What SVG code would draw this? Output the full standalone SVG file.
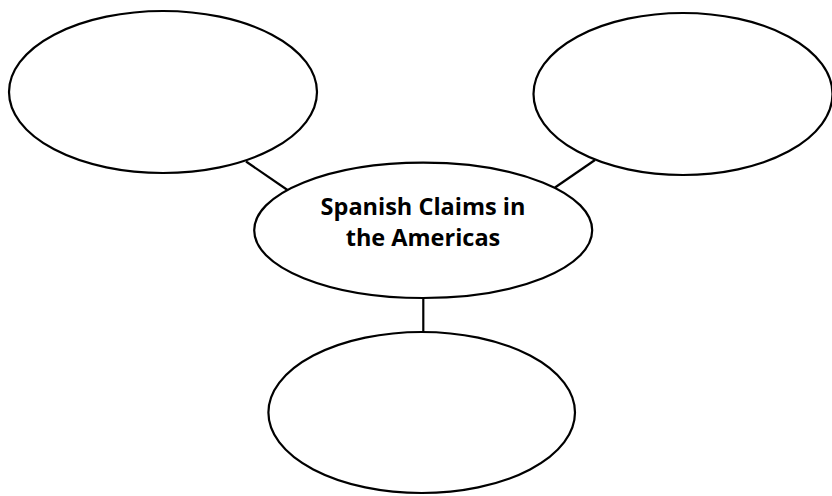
<svg xmlns="http://www.w3.org/2000/svg" width="832" height="496" viewBox="0 0 832 496">
<style>
.node{fill:#fff;stroke:#000;stroke-width:2.2}
.conn{stroke:#000;stroke-width:2.2;fill:none}
.label{font-family:"Open Sans","Liberation Sans",sans-serif;font-weight:bold;font-size:23.5px;fill:#000;text-anchor:middle}
</style>
<rect width="832" height="496" fill="#fff"/>
<g id="connectors">
<line class="conn" x1="246" y1="161.5" x2="287.5" y2="190"/>
<line class="conn" x1="595" y1="160" x2="555" y2="187.5"/>
<line class="conn" x1="423.3" y1="298" x2="423.3" y2="332"/>
</g>
<g id="node-top-left">
<ellipse class="node" cx="163" cy="92" rx="154" ry="81"/>
</g>
<g id="node-top-right">
<ellipse class="node" cx="683" cy="94" rx="149.5" ry="81"/>
</g>
<g id="node-center">
<ellipse class="node" cx="423.2" cy="230.3" rx="169" ry="67.7"/>
<text class="label" x="423" y="215">Spanish Claims in</text>
<text class="label" x="423" y="246">the Americas</text>
</g>
<g id="node-bottom">
<ellipse class="node" cx="421.7" cy="412.5" rx="153.3" ry="80.5"/>
</g>
</svg>
